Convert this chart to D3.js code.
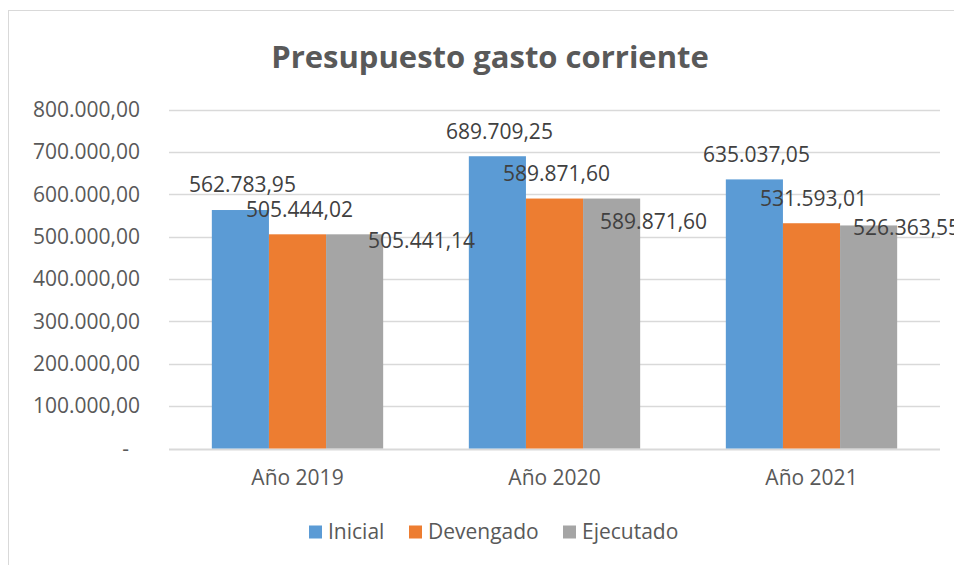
<!DOCTYPE html>
<html>
<head>
<meta charset="utf-8">
<script src="https://cdn.jsdelivr.net/npm/d3@7"></script>
<style>
  body { margin: 0; background: #fff; }
  text { font-family: "Open Sans", "Noto Sans", sans-serif; }
</style>
</head>
<body>
<div id="chart"></div>
<script>
  var years = ["Año 2019", "Año 2020", "Año 2021"];
  var series = ["Inicial", "Devengado", "Ejecutado"];
  var inicial = [562783.95, 689709.25, 635037.05];
  var devengado = [505444.02, 589871.60, 531593.01];
  var ejecutado = [505441.14, 589871.60, 526363.55];
  var yTicks = [0, 100000, 200000, 300000, 400000, 500000, 600000, 700000, 800000];
  var colors = ["#5b9bd5", "#ed7d31", "#a5a5a5"];

  // the Ejecutado labels were dragged by hand in the original, one shift per year
  var ejecShift = [[67, 6], [42, 23], [38, 2]];

  var width = 954, height = 565;
  var margin = { top: 110, bottom: 117, left: 169, right: 14 };

  var values = [inicial, devengado, ejecutado];
  var data = [];
  years.forEach(function(y, i) {
    series.forEach(function(s, j) {
      data.push({ year: y, serie: s, value: values[j][i], yi: i, si: j });
    });
  });

  // numbers like 562.783,95
  var fmt = d3.formatLocale({ decimal: ",", thousands: ".", grouping: [3] }).format(",.2f");

  var svg = d3.select("#chart")
              .append("svg")
              .attr("width", width)
              .attr("height", height);

  // chart area border
  svg.append("rect")
     .attr("x", 8.5).attr("y", 10.5)
     .attr("width", 960).attr("height", 580)
     .attr("fill", "none")
     .attr("stroke", "#d9d9d9");

  svg.append("text")
     .attr("x", 490)
     .attr("y", 57)
     .attr("dy", "0.35em")
     .attr("text-anchor", "middle")
     .attr("font-size", "31px")
     .attr("font-weight", "bold")
     .attr("fill", "#595959")
     .text("Presupuesto gasto corriente");

  var x0 = d3.scaleBand()
    .domain(years)
    .range([margin.left, width - margin.right])
    .paddingInner(1 / 3)
    .paddingOuter(1 / 6);

  var x1 = d3.scaleBand()
    .domain(series)
    .range([0, x0.bandwidth()]);

  var yScale = d3.scaleLinear()
    .domain([0, 800000])
    .range([height - margin.bottom + 0.5, margin.top - 0.5]);

  // gridlines
  svg.append("g")
     .selectAll("line")
     .data(yTicks)
     .enter()
     .append("line")
     .attr("x1", margin.left)
     .attr("x2", width - margin.right)
     .attr("y1", function(d) { return Math.round(yScale(d)) + 0.5; })
     .attr("y2", function(d) { return Math.round(yScale(d)) + 0.5; })
     .attr("stroke", "#d9d9d9")
     .attr("stroke-width", function(d) { return d == 0 ? 2 : 1.5; });

  // y tick labels
  svg.append("g")
     .selectAll("text")
     .data(yTicks)
     .enter()
     .append("text")
     .attr("x", d => d == 0 ? 129 : 140)
     .attr("y", d => yScale(d))
     .attr("dy", "0.35em")
     .attr("text-anchor", "end")
     .attr("font-size", "21px")
     .attr("fill", "#595959")
     .text(d => d == 0 ? "-" : fmt(d));

  // bars
  svg.append("g")
     .selectAll("rect")
     .data(data)
     .enter()
     .append("rect")
     .attr("x", d => x0(d.year) + x1(d.serie))
     .attr("y", d => yScale(d.value))
     .attr("width", x1.bandwidth())
     .attr("height", d => yScale(0) - yScale(d.value))
     .attr("fill", d => colors[d.si]);

  // data labels
  svg.append("g")
     .selectAll("text")
     .data(data)
     .enter()
     .append("text")
     .attr("x", function(d) {
       var cx = x0(d.year) + x1(d.serie) + x1.bandwidth() / 2;
       return d.si == 2 ? cx + ejecShift[d.yi][0] : cx + 2;
     })
     .attr("y", function(d) {
       var top = yScale(d.value);
       return d.si == 2 ? top + ejecShift[d.yi][1] : top - 25;
     })
     .attr("dy", "0.35em")
     .attr("text-anchor", "middle")
     .attr("font-size", "21px")
     .attr("fill", "#404040")
     .text(d => fmt(d.value));

  // category labels
  svg.append("g")
     .selectAll("text")
     .data(years)
     .enter()
     .append("text")
     .attr("x", d => x0(d) + x0.bandwidth() / 2)
     .attr("y", 478)
     .attr("dy", "0.35em")
     .attr("text-anchor", "middle")
     .attr("font-size", "21px")
     .attr("fill", "#595959")
     .text(d => d);

  // legend
  var legendX = [309, 409, 563];
  var legend = svg.append("g")
     .selectAll("g")
     .data(series)
     .enter()
     .append("g")
     .attr("transform", (d, i) => "translate(" + legendX[i] + ",532)");

  legend.append("rect")
     .attr("x", 0).attr("y", -6.5)
     .attr("width", 13).attr("height", 13)
     .attr("fill", (d, i) => colors[i]);

  legend.append("text")
     .attr("x", 19)
     .attr("dy", "0.35em")
     .attr("font-size", "21px")
     .attr("fill", "#595959")
     .text(d => d);
</script>
</body>
</html>
